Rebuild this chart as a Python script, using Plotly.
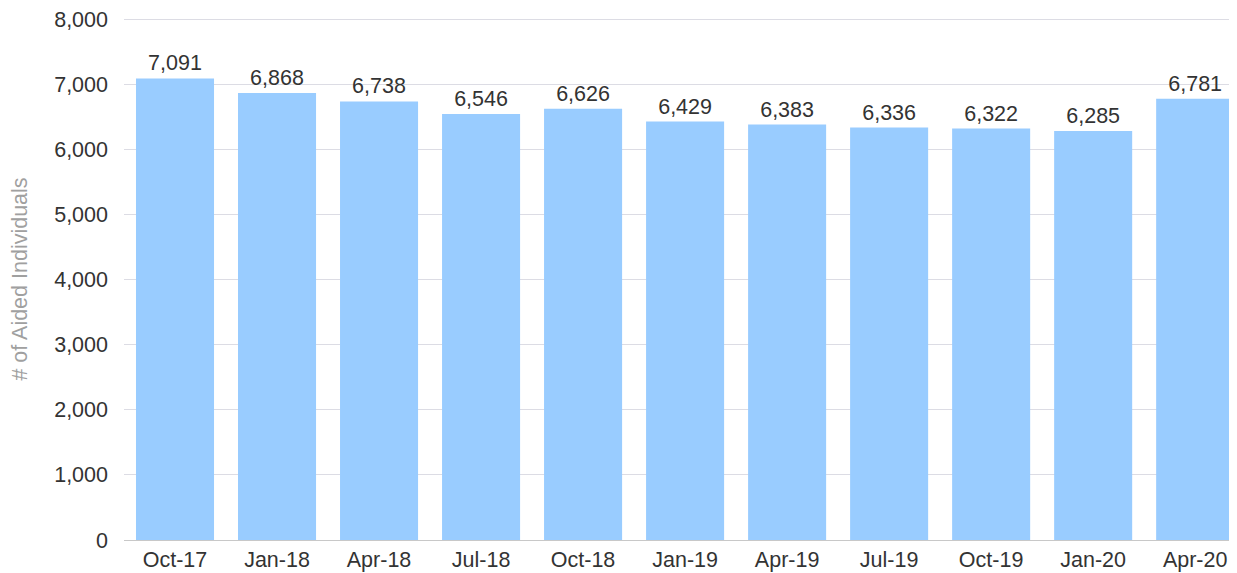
import plotly.graph_objects as go

categories = ["Oct-17", "Jan-18", "Apr-18", "Jul-18", "Oct-18", "Jan-19",
              "Apr-19", "Jul-19", "Oct-19", "Jan-20", "Apr-20"]
values = [7091, 6868, 6738, 6546, 6626, 6429, 6383, 6336, 6322, 6285, 6781]
y_ticks = [0, 1000, 2000, 3000, 4000, 5000, 6000, 7000, 8000]

FONT = "Liberation Sans, Arial, sans-serif"
FS = 21.5

fig = go.Figure(go.Bar(
    x=list(range(len(categories))),
    y=values,
    marker=dict(color="#99ccff", line=dict(width=0)),
    text=[f"{v:,}" for v in values],
    textposition="outside",
    textfont=dict(family=FONT, size=FS, color="#333333"),
    cliponaxis=False,
    width=0.765,
))

# page body has an 8px offset; compensate
fig.update_layout(
    width=1229, height=565,
    margin=dict(l=116, r=0, t=10, b=33, autoexpand=False),
    paper_bgcolor="white", plot_bgcolor="white",
    showlegend=False,
    font=dict(family=FONT, size=FS, color="#333333"),
    uniformtext=dict(mode=False),
    xaxis=dict(
        range=[-0.5, 10.41],
        tickmode="array",
        tickvals=list(range(len(categories))),
        ticktext=categories,
        showgrid=False,
        showline=True, linecolor="#c8c8c8", linewidth=1,
        ticks="", tickfont=dict(size=FS, color="#333333"),
        zeroline=False, automargin=False, ticklabeloverflow="allow",
    ),
    yaxis=dict(
        range=[0, 8020],
        tickmode="array",
        tickvals=y_ticks,
        ticktext=[f"{t:,}" for t in y_ticks],
        showgrid=True, gridcolor="#dcdce4", gridwidth=1,
        zeroline=False, showline=False,
        ticks="", ticklen=0, ticklabelstandoff=15,
        tickfont=dict(size=FS, color="#333333"),
        automargin=False, ticklabeloverflow="allow",
        title=dict(text="# of Aided Individuals",
                   font=dict(size=FS, color="#a0a0a0"), standoff=20),
    ),
)

fig.write_html("out.html")
